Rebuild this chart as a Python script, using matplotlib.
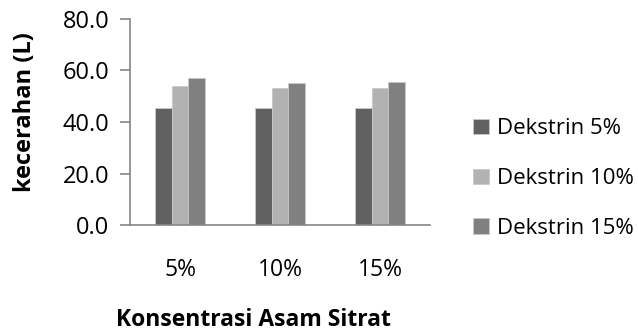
import matplotlib
matplotlib.use('Agg')
import matplotlib.pyplot as plt
import numpy as np

plt.rcParams['font.family'] = ['Open Sans', 'DejaVu Sans']

categories = ['5%', '10%', '15%']
series_names = ['Dekstrin 5%', 'Dekstrin 10%', 'Dekstrin 15%']
dekstrin_5 = [45.6, 45.3, 45.4]
dekstrin_10 = [54.1, 53.1, 53.1]
dekstrin_15 = [57.2, 55.0, 55.4]
y_ticks = [0, 20, 40, 60, 80]

colors = ['#616161', '#b2b2b2', '#808080']
axis_color = '#868686'

fig = plt.figure(figsize=(6.38, 3.33), dpi=100)
ax = fig.add_axes([0.2038, 0.3243, 0.4702, 0.6187])

x = np.arange(len(categories))
width = 1 / 6
for k, (vals, name) in enumerate(zip([dekstrin_5, dekstrin_10, dekstrin_15], series_names)):
    ax.bar(x + (k - 1) * width, vals, width, color=colors[k], label=name,
           edgecolor='#c8c8c8', linewidth=0.6)

ax.set_xlim(-0.5, len(categories) - 0.5)
ax.set_ylim(0, 80)
ax.set_yticks(y_ticks)
ax.set_yticklabels([f'{v:.1f}' for v in y_ticks])
ax.set_xticks(x)
ax.set_xticklabels(categories)

for side in ['top', 'right']:
    ax.spines[side].set_visible(False)
for side in ['left', 'bottom']:
    ax.spines[side].set_color(axis_color)
    ax.spines[side].set_linewidth(1.2)
ax.tick_params(axis='y', length=7, width=1.2, color=axis_color, labelsize=17, pad=8)
ax.tick_params(axis='x', length=0, labelsize=16.5, pad=24)

fig.text(25 / 638, 1 - 112 / 333, 'kecerahan (L)', fontsize=17, fontweight='bold',
         rotation=90, ha='center', va='center')
fig.text(253 / 638, 1 - 320 / 333, 'Konsentrasi Asam Sitrat', fontsize=16.5,
         fontweight='bold', ha='center', va='center')

fig.legend(loc='upper left', bbox_to_anchor=(0.742, 0.645), frameon=False,
           fontsize=16, handlelength=0.7, handleheight=0.7,
           handletextpad=0.35, labelspacing=1.3, borderpad=0, borderaxespad=0)

fig.savefig('out.png', dpi=100)
